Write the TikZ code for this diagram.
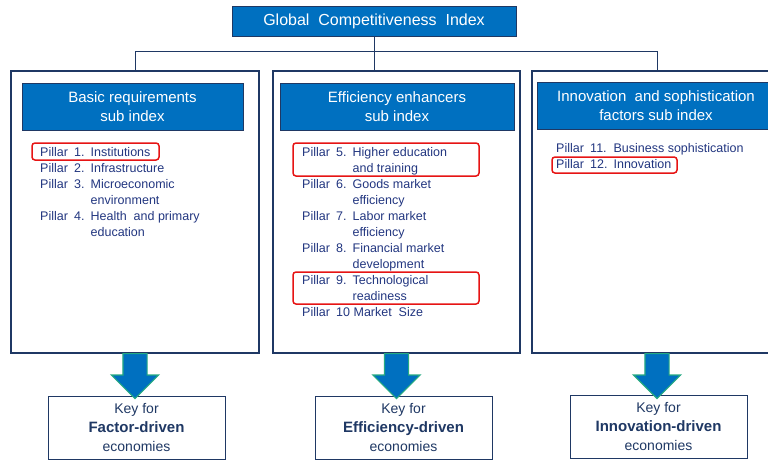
\documentclass[tikz,border=0pt]{standalone}
\usepackage{fontspec}
\setmainfont{Liberation Sans}
\usepackage{xcolor}
\usepackage{tikz}
\usetikzlibrary{positioning,calc,shapes.arrows}
\definecolor{gciblue}{RGB}{0,112,192}
\definecolor{gcinavy}{RGB}{31,56,100}
\definecolor{pillarblue}{RGB}{34,54,128}
\definecolor{markred}{RGB}{230,20,20}
\definecolor{arrowgreen}{RGB}{38,170,130}

\begin{document}
\begin{tikzpicture}[x=1pt,y=-1pt,
					title/.style={
						draw=gcinavy, line width=1pt, fill=gciblue, text=white,
						minimum width=284pt, minimum height=30pt,
						font=\fontsize{16}{19}\selectfont
					},
					panel/.style={draw=gcinavy, line width=2pt, minimum height=282pt},
					subhead/.style={
						draw=gcinavy, line width=1pt, fill=gciblue, text=white,
						minimum height=47pt, align=center,
						font=\fontsize{15}{19}\selectfont
					},
					pillars/.style={anchor=base west, inner sep=0pt, text=pillarblue,
						font=\fontsize{12.5}{16}\selectfont},
					hilite/.style={draw=markred, line width=1.5pt, rounded corners=3pt},
					link/.style={draw=gcinavy, line width=1pt},
					keybox/.style={
						draw=gcinavy, line width=1pt, fill=white, text=gcinavy,
						minimum width=177pt, minimum height=63pt, align=center,
						font=\fontsize{14}{19}\selectfont
					},
					keyarrow/.style={
						single arrow, draw=arrowgreen, fill=gciblue, line width=1.2pt,
						minimum height=45pt, inner xsep=11.5pt, inner ysep=0pt,
						single arrow head extend=11.5pt, single arrow tip angle=90,
						shape border rotate=270, anchor=tail
					}
					]
					\useasboundingbox (0,0) rectangle (768,461);
					% Chỉ số tổng và ba khung chỉ số phụ
					\node[title] (gci) at (374,21) {Global\ \ Competitiveness\ \ Index};
					\node[panel, minimum width=248pt] (basic) at (135,212) {};
					\node[panel, minimum width=247pt] (effi)  at (396.5,212) {};
					\node[panel, minimum width=250pt] (innov) at (657,212) {};
					\node[subhead, minimum width=221pt] (basichead) at (132.5,106.5) {Basic requirements\\sub index};
					\node[subhead, minimum width=234pt] (effihead)  at (397,106.5) {Efficiency enhancers\\sub index};
					\node[subhead, minimum width=238pt] (innovhead) at (656,106) {Innovation\ \ and sophistication\\factors sub index};
					\draw[link] (gci.south) -- (gci.south |- effi.north);
					\draw[link] (basic.north) -- ++(0,-19) -| (innov.north);
					% Các trụ cột
					\node[pillars] (basiclist) at (40,156) {\begin{tabular}[t]{@{}l@{\hspace{6pt}}l@{}}
							Pillar\enspace1. & Institutions\\
							Pillar\enspace2. & Infrastructure\\
							Pillar\enspace3. & Microeconomic\\
							& environment\\
							Pillar\enspace4. & Health\ \ and primary\\
							& education
						\end{tabular}};
					\node[pillars] (effilist) at (302,156) {\begin{tabular}[t]{@{}l@{\hspace{6pt}}l@{}}
							Pillar\enspace5. & Higher education\\
							& and training\\
							Pillar\enspace6. & Goods market\\
							& efficiency\\
							Pillar\enspace7. & Labor market\\
							& efficiency\\
							Pillar\enspace8. & Financial market\\
							& development\\
							Pillar\enspace9. & Technological\\
							& readiness\\
							\multicolumn{2}{@{}l@{}}{Pillar\enspace10 Market\ \ Size}
						\end{tabular}};
					\node[pillars] (innovlist) at (556,152) {\begin{tabular}[t]{@{}l@{\hspace{6pt}}l@{}}
							Pillar\enspace11. & Business sophistication\\
							Pillar\enspace12. & Innovation
						\end{tabular}};
					% Khung đỏ đánh dấu
					\draw[hilite] (32,143) rectangle (159,160);
					\draw[hilite] (293,143) rectangle (479,176);
					\draw[hilite] (293,272) rectangle (479,304);
					\draw[hilite] (552,157) rectangle (677,173);
					% Loại nền kinh tế
					\node[keybox] (keyfactor) at (136.5,427.5) {Key for\\{\bfseries\fontsize{15}{19}\selectfont Factor-driven}\\economies};
					\node[keybox] (keyeffi)   at (403.5,427.5) {Key for\\{\bfseries\fontsize{15}{19}\selectfont Efficiency-driven}\\economies};
					\node[keybox] (keyinnov)  at (658.5,426.5) {Key for\\{\bfseries\fontsize{15}{19}\selectfont Innovation-driven}\\economies};
					\node[keyarrow] (arrfactor) at ($(basic.south)+(0,-1)$) {};
					\node[keyarrow] (arreffi)   at ($(effi.south)+(0,-1)$) {};
					\node[keyarrow] (arrinnov)  at ($(innov.south)+(0,-1)$) {};
				\end{tikzpicture}
\end{document}
